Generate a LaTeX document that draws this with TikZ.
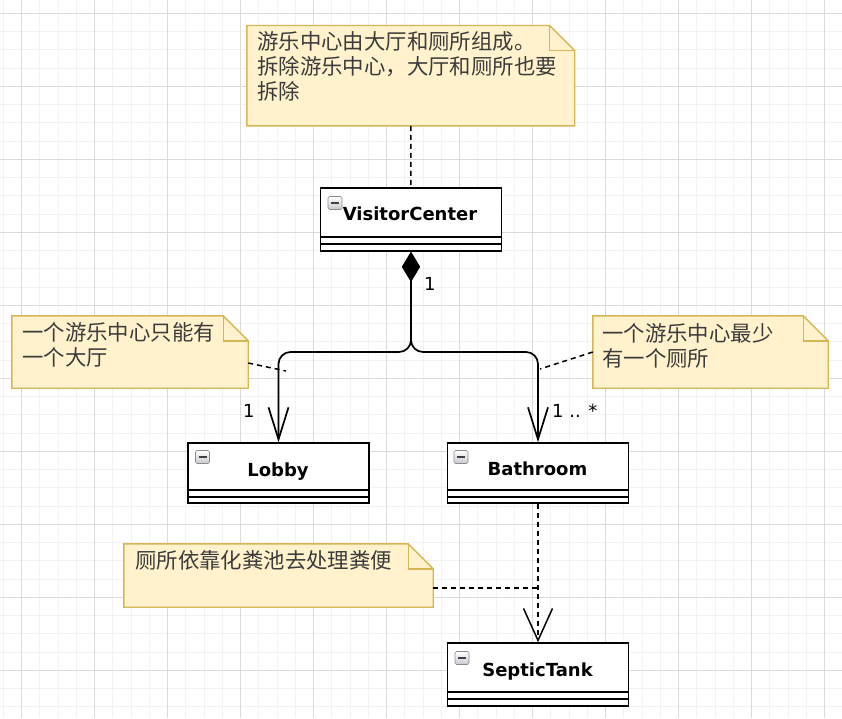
\documentclass[tikz,border=0pt]{standalone}
\usepackage{fontspec}
\setmainfont{DejaVu Sans}
\newfontfamily\cjk{Noto Sans CJK SC}
\usetikzlibrary{arrows.meta}
\definecolor{notefill}{HTML}{FFF2CC}
\definecolor{noteline}{HTML}{D6B656}
\definecolor{gridminor}{HTML}{F2F2F2}
\definecolor{gridmajor}{HTML}{DADADA}
\definecolor{notetext}{HTML}{3C3C3C}
\newcommand\drawnotebox[1]{%
  \filldraw[noteshape] (#1.north west) -- ([xshift=-25pt]#1.north east) -- ([yshift=-25pt]#1.north east) -- (#1.south east) -- (#1.south west) -- cycle;
  \draw[noteshape, fill=none] ([xshift=-25pt]#1.north east) -- ([xshift=-25pt,yshift=-25pt]#1.north east) -- ([yshift=-25pt]#1.north east);}
\newcommand\classsections[3]{%
  \draw[classline] ([yshift=#2pt]#1.south west) -- ([yshift=#2pt]#1.south east);
  \draw[classline] ([yshift=#3pt]#1.south west) -- ([yshift=#3pt]#1.south east);}
\begin{document}
\begin{tikzpicture}[x=1pt,y=-1pt,
  noteshape/.style={draw=noteline, fill=notefill, line width=1.4pt, line join=miter},
  notearea/.style={draw=none, fill=none, inner sep=0pt},
  notetxt/.style={font=\cjk\fontsize{21.4pt}{25.3pt}\selectfont, text=notetext, align=left, anchor=base west, inner sep=0pt},
  classbox/.style={draw=black, line width=1.6pt, fill=white, minimum width=181pt, inner sep=0pt},
  classline/.style={draw=black, line width=1.6pt},
  classname/.style={font=\bfseries\fontsize{18pt}{20pt}\selectfont, anchor=base, inner sep=0pt},
  mult/.style={font=\fontsize{18pt}{20pt}\selectfont, anchor=base west, inner sep=0pt},
  icon/.style={draw=black!45, line width=0.6pt, rounded corners=1.5pt, minimum width=14pt, minimum height=13pt, inner sep=0pt, anchor=north west,
    top color=white, bottom color=blue!8!gray!40,
    path picture={\draw[black!75, line width=2pt] ([xshift=3pt]path picture bounding box.west) -- ([xshift=-3pt]path picture bounding box.east);}},
  assoc/.style={draw=black, line width=1.7pt, rounded corners=12pt,
    {Diamond[length=30pt,width=18pt]}-{Straight Barb[length=32pt,width=20pt]}},
  dep/.style={draw=black, line width=1.5pt, dash pattern=on 5pt off 4pt, -{Straight Barb[length=32pt,width=29pt]}},
  notelink/.style={draw=black, line width=1.5pt, dash pattern=on 5pt off 4pt}
]
% background and grid
\fill[white] (0,0) rectangle (842,718);
\useasboundingbox (0,0) rectangle (842,718);
\foreach \i in {0,...,45} \draw[gridminor, line width=1pt] ({3.45+18.25*\i},0) -- ({3.45+18.25*\i},718);
\foreach \j in {0,...,38} \draw[gridminor, line width=1pt] (0,{13.3+18.25*\j}) -- (842,{13.3+18.25*\j});
\foreach \i in {0,...,11} \draw[gridmajor, line width=1pt] ({21.7+73*\i},0) -- ({21.7+73*\i},718);
\foreach \j in {0,...,9} \draw[gridmajor, line width=1pt] (0,{13.3+73*\j}) -- (842,{13.3+73*\j});

% notes
\node[notearea, minimum width=327.5pt, minimum height=100pt] (n1) at (410.75,75.7) {};
\node[notearea, minimum width=236pt, minimum height=72pt] (n2) at (130,352) {};
\node[notearea, minimum width=235pt, minimum height=72pt] (n3) at (710.5,352) {};
\node[notearea, minimum width=309pt, minimum height=63pt] (n4) at (278.5,575.5) {};
\drawnotebox{n1}
\drawnotebox{n2}
\drawnotebox{n3}
\drawnotebox{n4}
% multi-line nodes: base anchor is the baseline of the last line
\node[notetxt] (n1t) at (257,99.6) {游乐中心由大厅和厕所组成。\\拆除游乐中心，大厅和厕所也要\\拆除};
\node[notetxt] (n2t) at (22,365.5) {一个游乐中心只能有\\一个大厅};
\node[notetxt] (n3t) at (602,366.5) {一个游乐中心最少\\有一个厕所};
\node[notetxt] (n4t) at (135,568.5) {厕所依靠化粪池去处理粪便};

% classes
\node[classbox, minimum height=63pt] (vc) at (411,219.5) {};
\node[classbox, minimum height=60pt] (lobby) at (278.5,473) {};
\node[classbox, minimum height=60pt] (bath) at (538,473) {};
\node[classbox, minimum height=63pt] (sep) at (538,674.5) {};
\classsections{vc}{15}{8}
\classsections{lobby}{14}{7}
\classsections{bath}{14}{7}
\classsections{sep}{15}{8}
\node[icon] (vcicon) at ([xshift=8pt,yshift=-9pt]vc.north west) {};
\node[icon] (lobbyicon) at ([xshift=8pt,yshift=-8pt]lobby.north west) {};
\node[icon] (bathicon) at ([xshift=7pt,yshift=-8pt]bath.north west) {};
\node[icon] (sepicon) at ([xshift=8pt,yshift=-9pt]sep.north west) {};
\node[classname] (vcname) at (410,220) {VisitorCenter};
\node[classname] (lobbyname) at (278,476) {Lobby};
\node[classname] (bathname) at (537.5,475) {Bathroom};
\node[classname] (sepname) at (537.5,676) {SepticTank};

% composition connectors
\coordinate (split) at (411,352);
\draw[assoc] (vc.south) -- (split) -| (lobby.north);
\draw[assoc] (vc.south) -- (split) -| (bath.north);
\node[mult] (m0) at (424,290) {1};
\node[mult] (m1) at (243,417) {1};
\node[mult] (m2) at (552,417) {1 .. *};

% dependency
\draw[dep] (bath.south) -- (sep.north);

% note links
\coordinate (lobbyarm) at (286,371);
\coordinate (batharm) at (540,369);
\coordinate (sepjoin) at (538,588);
\draw[notelink] (n1.south) -- (vc.north);
\draw[notelink] ([yshift=-11pt]n2.east) -- (lobbyarm);
\draw[notelink] (n3.west) -- (batharm);
\draw[notelink] ([yshift=-12.5pt]n4.east) -- (sepjoin);
\end{tikzpicture}
\end{document}
